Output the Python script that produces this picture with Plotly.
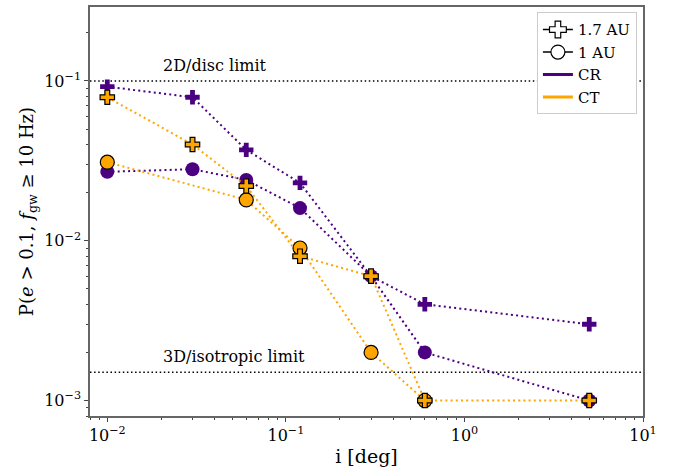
import numpy as np
import plotly.graph_objects as go

# inclination values [deg]
i_cr_17 = [0.01, 0.03, 0.06, 0.12, 0.3, 0.6, 5.0]
p_cr_17 = [0.092, 0.079, 0.037, 0.023, 0.006, 0.004, 0.003]

i_cr_1 = [0.01, 0.03, 0.06, 0.12, 0.3, 0.6, 5.0]
p_cr_1 = [0.027, 0.028, 0.024, 0.016, 0.006, 0.002, 0.001]

i_ct_17 = [0.01, 0.03, 0.06, 0.12, 0.3, 0.6, 5.0]
p_ct_17 = [0.079, 0.040, 0.022, 0.008, 0.006, 0.001, 0.001]

i_ct_1 = [0.01, 0.06, 0.12, 0.3, 0.6]
p_ct_1 = [0.031, 0.018, 0.009, 0.002, 0.001]

disc_limit = 0.1
iso_limit = 1.5e-3

x_decades = [-2, -1, 0, 1]
y_decades = [-3, -2, -1]

X_MIN, X_MAX = 8e-3, 10.0
Y_MIN, Y_MAX = 8e-4, 0.29

PURPLE = "#4B0082"
ORANGE = "#FFA500"
SERIF = "DejaVu Serif"
DOT = "2px,3.2px"


def pow_label(e):
    sign = "\u2212" if e < 0 else ""
    return f"10<sup>{sign}{abs(e)}</sup>"


def minor_vals(lo, hi):
    vals = []
    for d in range(int(np.floor(np.log10(lo))), int(np.ceil(np.log10(hi))) + 1):
        for m in range(2, 10):
            v = m * 10.0 ** d
            if lo <= v <= hi:
                vals.append(v)
    return vals


fig = go.Figure()

# reference limits
for yv in (disc_limit, iso_limit):
    fig.add_trace(go.Scatter(
        x=[X_MIN, X_MAX], y=[yv, yv], mode="lines",
        line=dict(color="black", width=1.5, dash="1.5px,2.6px"),
        showlegend=False, hoverinfo="skip"))


def series(x, y, color, symbol, size, edge):
    fig.add_trace(go.Scatter(
        x=x, y=y, mode="lines+markers",
        line=dict(color=color, width=2, dash=DOT),
        marker=dict(symbol=symbol, size=size, color=color,
                    line=dict(color=edge, width=1.2 if edge == "black" else 0)),
        showlegend=False))


series(i_cr_1, p_cr_1, PURPLE, "circle", 14, PURPLE)
series(i_cr_17, p_cr_17, PURPLE, "cross", 12, PURPLE)
series(i_ct_1, p_ct_1, ORANGE, "circle", 14, "black")
series(i_ct_17, p_ct_17, ORANGE, "cross", 12, "black")

# legend entries
fig.add_trace(go.Scatter(
    x=[None], y=[None], mode="lines+markers", name="1.7 AU",
    line=dict(color="black", width=1.5),
    marker=dict(symbol="cross", size=14, color="white", line=dict(color="black", width=1.2))))
fig.add_trace(go.Scatter(
    x=[None], y=[None], mode="lines+markers", name="1 AU",
    line=dict(color="black", width=1.5),
    marker=dict(symbol="circle", size=14, color="white", line=dict(color="black", width=1.2))))
fig.add_trace(go.Scatter(x=[None], y=[None], mode="lines", name="CR",
                         line=dict(color=PURPLE, width=3)))
fig.add_trace(go.Scatter(x=[None], y=[None], mode="lines", name="CT",
                         line=dict(color=ORANGE, width=3)))

fig.add_annotation(x=np.log10(0.02), y=np.log10(disc_limit), text="2D/disc limit",
                   xanchor="left", yanchor="bottom", showarrow=False, yshift=4,
                   font=dict(family=SERIF, size=16, color="black"))
fig.add_annotation(x=np.log10(0.02), y=np.log10(iso_limit), text="3D/isotropic limit",
                   xanchor="left", yanchor="bottom", showarrow=False, yshift=4,
                   font=dict(family=SERIF, size=16, color="black"))

axis_common = dict(
    type="log", showgrid=False, zeroline=False,
    showline=True, linecolor="#666", linewidth=1.5, mirror=True,
    ticks="outside", ticklen=4, tickwidth=1, tickcolor="#444",
    tickfont=dict(family=SERIF, size=16, color="black"),
)

fig.update_xaxes(range=[np.log10(X_MIN), np.log10(X_MAX)],
                 tickvals=[10.0 ** e for e in x_decades],
                 ticktext=[pow_label(e) for e in x_decades],
                 minor=dict(ticks="outside", ticklen=2, tickwidth=1, tickcolor="#444",
                            tickvals=minor_vals(X_MIN, X_MAX), showgrid=False),
                 title=dict(text="i [deg]", font=dict(family=SERIF, size=19, color="black"), standoff=6),
                 **axis_common)
fig.update_yaxes(range=[np.log10(Y_MIN), np.log10(Y_MAX)],
                 tickvals=[10.0 ** e for e in y_decades],
                 ticktext=[pow_label(e) for e in y_decades],
                 minor=dict(ticks="outside", ticklen=2, tickwidth=1, tickcolor="#444",
                            tickvals=minor_vals(Y_MIN, Y_MAX), showgrid=False),
                 title=dict(text="P(<i>e</i> > 0.1, <i>f</i><sub>gw</sub> ≥ 10 Hz)",
                            font=dict(family=SERIF, size=18, color="black"), standoff=6),
                 **axis_common)

fig.update_layout(
    width=684, height=471,
    margin=dict(l=90, r=41, t=5, b=55),
    plot_bgcolor="white", paper_bgcolor="white",
    font=dict(family=SERIF, color="black"),
    legend=dict(x=0.989, y=0.987, xanchor="right", yanchor="top",
                bgcolor="white", bordercolor="#cccccc", borderwidth=1,
                font=dict(family=SERIF, size=15, color="black"),
                tracegroupgap=0, itemwidth=30),
)

fig.write_html("out.html")
